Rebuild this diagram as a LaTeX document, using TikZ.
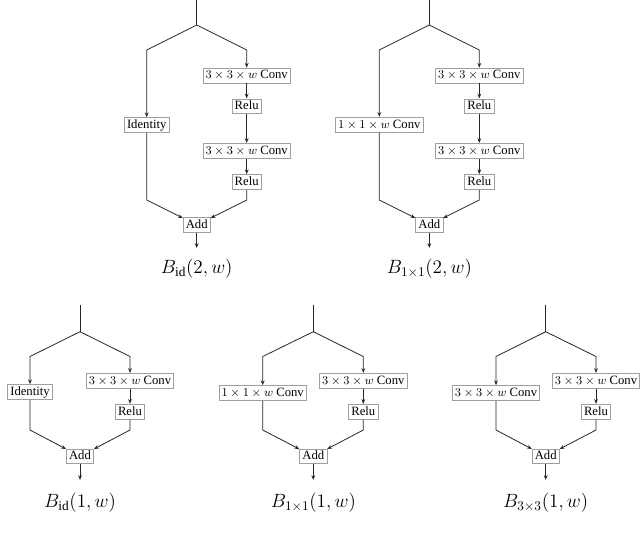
\documentclass[tikz,border=0pt]{standalone}
\usepackage{fontspec}
\setmainfont{Liberation Serif}
\usetikzlibrary{arrows.meta}
\tikzset{
  blk/.style={draw=gray!75,line width=0.5pt,fill=white,inner xsep=2pt,inner ysep=1.5pt,
    text height=6.6pt,text depth=1.6pt,font=\fontsize{9.5}{11}\selectfont},
  conn/.style={line width=0.6pt,black!85,-{Stealth[length=3.6pt,width=2.8pt]}},
  wire/.style={line width=0.6pt,black!85},
  blabel/.style={font=\Large}
}
\begin{document}
\begin{tikzpicture}[x=0.75pt,y=-0.75pt]
	\useasboundingbox (0,0) rectangle (640,537);
	% B_id(2,w)
	\coordinate (a-in) at (196.7,0);
	\coordinate (a-split) at (196.7,25);
	\coordinate (a-l) at (146.7,50);
	\coordinate (a-r) at (246.7,50);
	\node[blk] (a-id) at (146.7,125) {Identity};
	\node[blk] (a-c1) at (246.7,75.5) {$3\times3\times w$ Conv};
	\node[blk] (a-r1) at (246.7,106.3) {Relu};
	\node[blk] (a-c2) at (246.7,150.8) {$3\times3\times w$ Conv};
	\node[blk] (a-r2) at (246.7,182) {Relu};
	\coordinate (a-lj) at (146.7,200);
	\coordinate (a-rj) at (246.7,200);
	\node[blk] (a-add) at (196.7,225) {Add};
	\coordinate (a-out) at (196.7,248);
	\node[blabel] (a-name) at (196.7,269) {$B_{\mathrm{id}}(2,w)$};
	\draw[wire] (a-in) -- (a-split);
	\draw[conn] (a-split) -- (a-l) -- (a-id);
	\draw[conn] (a-split) -- (a-r) -- (a-c1);
	\draw[conn] (a-c1) -- (a-r1);
	\draw[conn] (a-r1) -- (a-c2);
	\draw[conn] (a-c2) -- (a-r2);
	\draw[conn] (a-id) -- (a-lj) -- (a-add);
	\draw[conn] (a-r2) -- (a-rj) -- (a-add);
	\draw[conn] (a-add) -- (a-out);
	% B_1x1(2,w)
	\coordinate (b-in) at (429.3,0);
	\coordinate (b-split) at (429.3,25);
	\coordinate (b-l) at (379.3,50);
	\coordinate (b-r) at (479.3,50);
	\node[blk] (b-id) at (379.3,124.7) {$1\times1\times w$ Conv};
	\node[blk] (b-c1) at (479.3,75.5) {$3\times3\times w$ Conv};
	\node[blk] (b-r1) at (479.3,106.3) {Relu};
	\node[blk] (b-c2) at (479.3,150.8) {$3\times3\times w$ Conv};
	\node[blk] (b-r2) at (479.3,182) {Relu};
	\coordinate (b-lj) at (379.3,200);
	\coordinate (b-rj) at (479.3,200);
	\node[blk] (b-add) at (429.3,225) {Add};
	\coordinate (b-out) at (429.3,248);
	\node[blabel] (b-name) at (429.3,269) {$B_{1\times1}(2,w)$};
	\draw[wire] (b-in) -- (b-split);
	\draw[conn] (b-split) -- (b-l) -- (b-id);
	\draw[conn] (b-split) -- (b-r) -- (b-c1);
	\draw[conn] (b-c1) -- (b-r1);
	\draw[conn] (b-r1) -- (b-c2);
	\draw[conn] (b-c2) -- (b-r2);
	\draw[conn] (b-id) -- (b-lj) -- (b-add);
	\draw[conn] (b-r2) -- (b-rj) -- (b-add);
	\draw[conn] (b-add) -- (b-out);
	% B_id(1,w)
	\coordinate (c-in) at (80,305);
	\coordinate (c-split) at (80,331.7);
	\coordinate (c-l) at (30,356.5);
	\coordinate (c-r) at (130,356.5);
	\node[blk] (c-id) at (30,392) {Identity};
	\node[blk] (c-c1) at (130,380.8) {$3\times3\times w$ Conv};
	\node[blk] (c-r1) at (130,411.7) {Relu};
	\coordinate (c-lj) at (30,430);
	\coordinate (c-rj) at (130,430);
	\node[blk] (c-add) at (80,456.3) {Add};
	\coordinate (c-out) at (80,480);
	\node[blabel] (c-name) at (80,502.7) {$B_{\mathrm{id}}(1,w)$};
	\draw[wire] (c-in) -- (c-split);
	\draw[conn] (c-split) -- (c-l) -- (c-id);
	\draw[conn] (c-split) -- (c-r) -- (c-c1);
	\draw[conn] (c-c1) -- (c-r1);
	\draw[conn] (c-id) -- (c-lj) -- (c-add);
	\draw[conn] (c-r1) -- (c-rj) -- (c-add);
	\draw[conn] (c-add) -- (c-out);
	% B_1x1(1,w)
	\coordinate (d-in) at (313.3,305);
	\coordinate (d-split) at (313.3,331.7);
	\coordinate (d-l) at (262.7,356.5);
	\coordinate (d-r) at (363.3,356.5);
	\node[blk] (d-id) at (262.7,393) {$1\times1\times w$ Conv};
	\node[blk] (d-c1) at (363.3,380.8) {$3\times3\times w$ Conv};
	\node[blk] (d-r1) at (363.3,411.7) {Relu};
	\coordinate (d-lj) at (262.7,430);
	\coordinate (d-rj) at (363.3,430);
	\node[blk] (d-add) at (313.3,456.3) {Add};
	\coordinate (d-out) at (313.3,480);
	\node[blabel] (d-name) at (313.3,502.7) {$B_{1\times1}(1,w)$};
	\draw[wire] (d-in) -- (d-split);
	\draw[conn] (d-split) -- (d-l) -- (d-id);
	\draw[conn] (d-split) -- (d-r) -- (d-c1);
	\draw[conn] (d-c1) -- (d-r1);
	\draw[conn] (d-id) -- (d-lj) -- (d-add);
	\draw[conn] (d-r1) -- (d-rj) -- (d-add);
	\draw[conn] (d-add) -- (d-out);
	% B_3x3(1,w)
	\coordinate (e-in) at (545.7,305);
	\coordinate (e-split) at (545.7,331.7);
	\coordinate (e-l) at (496,356.5);
	\coordinate (e-r) at (596,356.5);
	\node[blk] (e-id) at (496,393) {$3\times3\times w$ Conv};
	\node[blk] (e-c1) at (596,380.8) {$3\times3\times w$ Conv};
	\node[blk] (e-r1) at (596,411.7) {Relu};
	\coordinate (e-lj) at (496,430);
	\coordinate (e-rj) at (596,430);
	\node[blk] (e-add) at (545.7,456.3) {Add};
	\coordinate (e-out) at (545.7,480);
	\node[blabel] (e-name) at (545.7,502.7) {$B_{3\times3}(1,w)$};
	\draw[wire] (e-in) -- (e-split);
	\draw[conn] (e-split) -- (e-l) -- (e-id);
	\draw[conn] (e-split) -- (e-r) -- (e-c1);
	\draw[conn] (e-c1) -- (e-r1);
	\draw[conn] (e-id) -- (e-lj) -- (e-add);
	\draw[conn] (e-r1) -- (e-rj) -- (e-add);
	\draw[conn] (e-add) -- (e-out);
\end{tikzpicture}
\end{document}
